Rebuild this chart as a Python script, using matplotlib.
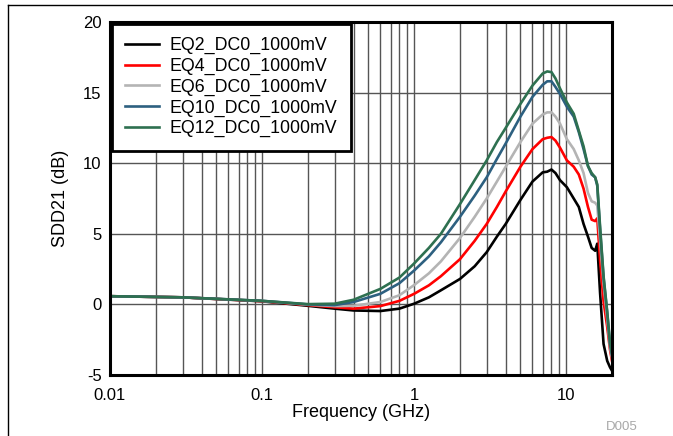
import matplotlib
matplotlib.use("Agg")
import matplotlib.pyplot as plt
from matplotlib.lines import Line2D
from matplotlib.ticker import LogLocator, FixedLocator, NullFormatter

plt.rcParams['font.family'] = ['Liberation Sans', 'DejaVu Sans']
plt.rcParams['axes.unicode_minus'] = False

# frequency points (GHz)
freq = [0.01, 0.03, 0.1, 0.2, 0.3, 0.4, 0.6, 0.8, 1.0, 1.25, 1.5, 2.0, 2.5, 3.0, 3.5,
        4.0, 5.0, 6.0, 7.0, 7.5, 8.0, 8.5, 9.1, 10.1, 11.2, 12.1, 13.0, 13.9,
        14.7, 15.5, 16.0, 16.7, 17.6, 18.6, 19.4, 20.0]

eq2 = [0.58, 0.5, 0.22, -0.1, -0.3, -0.43, -0.47, -0.3, 0.05, 0.5, 1.0, 1.8, 2.7, 3.7, 4.8,
       5.7, 7.4, 8.7, 9.35, 9.4, 9.55, 9.3, 8.8, 8.3, 7.5, 6.9, 5.7, 4.8,
       4.0, 3.8, 4.3, 0.8, -2.8, -4.0, -4.45, -4.7]
eq4 = [0.58, 0.5, 0.23, -0.05, -0.2, -0.3, -0.12, 0.25, 0.75, 1.35, 2.0, 3.2, 4.5, 5.7, 6.9,
       8.0, 9.75, 11.0, 11.7, 11.8, 11.85, 11.6, 11.1, 10.2, 9.75, 9.2, 8.2, 6.9,
       6.0, 5.9, 6.1, 3.1, 0.2, -1.6, -3.2, -4.0]
eq6 = [0.58, 0.5, 0.25, -0.02, -0.12, -0.1, 0.17, 0.65, 1.37, 2.2, 3.05, 4.7, 6.2, 7.5, 8.7,
       9.75, 11.5, 12.8, 13.45, 13.6, 13.6, 13.3, 12.8, 11.7, 11.0, 10.2, 9.3, 7.9,
       7.3, 7.2, 7.0, 4.5, 1.5, -1.0, -3.0, -3.8]
eq10 = [0.58, 0.5, 0.25, 0.0, -0.05, 0.17, 0.75, 1.5, 2.4, 3.4, 4.4, 6.2, 7.7, 9.0, 10.3,
        11.4, 13.3, 14.7, 15.55, 15.8, 15.8, 15.4, 14.9, 14.0, 13.3, 12.2, 11.0, 9.8,
        9.2, 9.0, 8.4, 5.3, 1.9, -0.6, -2.8, -3.6]
eq12 = [0.58, 0.5, 0.25, 0.02, 0.05, 0.33, 1.1, 1.9, 2.9, 4.0, 5.0, 7.1, 8.8, 10.2, 11.5,
        12.5, 14.2, 15.5, 16.35, 16.5, 16.45, 16.0, 15.3, 14.3, 13.5, 12.3, 11.2, 9.8,
        9.3, 9.0, 8.5, 5.5, 2.0, -0.5, -2.7, -3.5]

labels = ['EQ2_DC0_1000mV', 'EQ4_DC0_1000mV', 'EQ6_DC0_1000mV',
          'EQ10_DC0_1000mV', 'EQ12_DC0_1000mV']
colors = ['#000000', '#ff0000', '#b4b4b4', '#2d6080', '#2e7050']
series = [eq2, eq4, eq6, eq10, eq12]

fig = plt.figure(figsize=(6.73, 4.36), dpi=100)
ax = fig.add_axes([110 / 673, 1 - 375 / 436, 502 / 673, 353 / 436])

for ys, lab, col in zip(series, labels, colors):
    ax.plot(freq, ys, color=col, lw=1.9, label=lab)

ax.set_xscale('log')
ax.set_xlim(0.01, 20)
ax.set_ylim(-5, 20)
ax.set_yticks([-5, 0, 5, 10, 15, 20])
ax.xaxis.set_major_locator(FixedLocator([0.01, 0.1, 1, 10]))
ax.set_xticklabels(['0.01', '0.1', '1', '10'])
ax.xaxis.set_minor_locator(LogLocator(base=10, subs=range(2, 10)))
ax.xaxis.set_minor_formatter(NullFormatter())

ax.grid(True, which='both', axis='x', color='#555555', lw=1)
ax.grid(True, which='major', axis='y', color='#555555', lw=1)
ax.set_axisbelow(True)

ax.tick_params(axis='x', which='both', length=0, labelsize=12, pad=9)
ax.tick_params(axis='y', length=0, labelsize=12, pad=6)
for s in ax.spines.values():
    s.set_linewidth(2.2)

ax.set_xlabel('Frequency (GHz)', fontsize=13, labelpad=1)
ax.set_ylabel('SDD21 (dB)', fontsize=13, labelpad=10)

leg = ax.legend(loc='upper left', bbox_to_anchor=(0, 1), borderaxespad=0.1,
                fontsize=12.8, fancybox=False, framealpha=1, edgecolor='black',
                handlelength=1.9, handletextpad=0.6, labelspacing=0.2,
                borderpad=0.75)
leg.get_frame().set_linewidth(2)

fig.text(606 / 673, 1 - 427 / 436, 'D005', fontsize=9.5, color='#a8a8a8',
         ha='left', va='center')

# page frame lines
fig.add_artist(Line2D([8 / 673, 1], [1 - 5 / 436, 1 - 5 / 436],
                      transform=fig.transFigure, color='black', lw=1))
fig.add_artist(Line2D([8 / 673, 8 / 673], [0, 1 - 5 / 436],
                      transform=fig.transFigure, color='black', lw=1))

fig.savefig('out.png', dpi=100)
